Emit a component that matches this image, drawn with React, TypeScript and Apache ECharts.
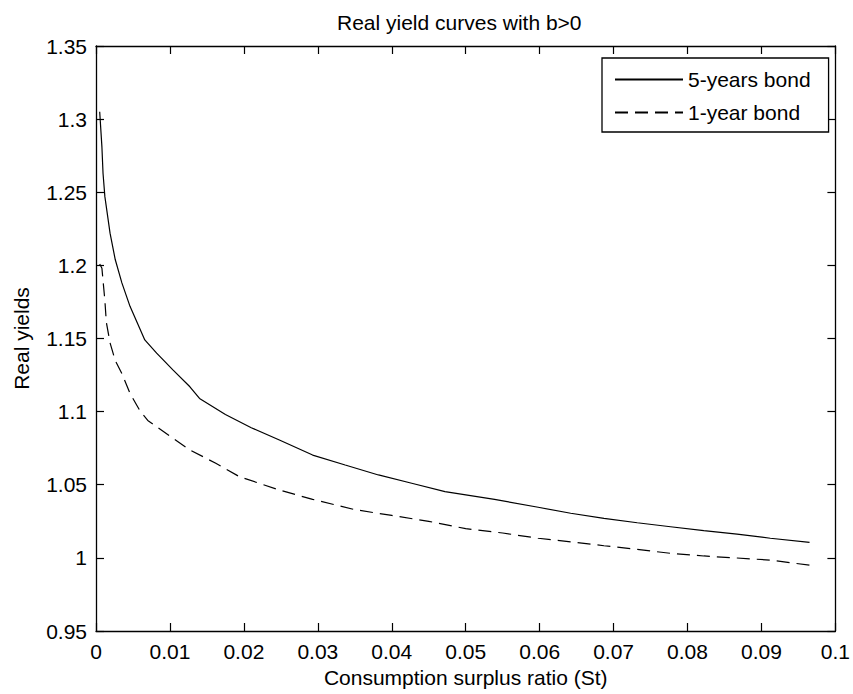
import React, { useEffect, useRef } from "react";
import * as echarts from "echarts";

const titleText = "Real yield curves with b>0";
const xAxisName = "Consumption surplus ratio (St)";
const yAxisName = "Real yields";
const seriesNames = ["5-years bond", "1-year bond"];

const fiveX = [0.0005, 0.0008, 0.00095, 0.0012, 0.0019, 0.0026, 0.0035, 0.0046, 0.0066, 0.0082, 0.0104, 0.0127, 0.014, 0.0175, 0.021, 0.0248, 0.0293, 0.0337, 0.0382, 0.0427, 0.0472, 0.0539, 0.0598, 0.0642, 0.0687, 0.0732, 0.0777, 0.0822, 0.0867, 0.0912, 0.0965];
const fiveY = [1.305, 1.281, 1.263, 1.247, 1.222, 1.204, 1.188, 1.172, 1.149, 1.14, 1.1285, 1.117, 1.109, 1.098, 1.089, 1.0806, 1.0703, 1.0635, 1.0567, 1.051, 1.0453, 1.04, 1.0346, 1.0305, 1.027, 1.024, 1.0213, 1.0186, 1.0163, 1.0134, 1.0106];

const oneX = [0.0005, 0.0008, 0.0012, 0.0014, 0.0019, 0.0026, 0.0035, 0.0046, 0.0059, 0.007, 0.0104, 0.0127, 0.0162, 0.0194, 0.0248, 0.0293, 0.035, 0.04, 0.045, 0.05, 0.055, 0.0598, 0.0642, 0.0687, 0.0732, 0.0777, 0.0822, 0.0867, 0.0912, 0.0965];
const oneY = [1.201, 1.198, 1.176, 1.161, 1.147, 1.135, 1.126, 1.1125, 1.101, 1.094, 1.0818, 1.0738, 1.0647, 1.0555, 1.0464, 1.04, 1.033, 1.029, 1.025, 1.02, 1.017, 1.0134, 1.011, 1.0083, 1.0058, 1.0031, 1.0013, 0.9999, 0.9985, 0.995];

const xMin = 0;
const xMax = 0.1;
const xStep = 0.01;
const yMin = 0.95;
const yMax = 1.35;
const yStep = 0.05;

const FONT = "'Liberation Sans', Arial, sans-serif";
const FS = 21;
const INK = "#000";

export default function App() {
  const ref = useRef<HTMLDivElement>(null);
  useEffect(() => {
    if (!ref.current) return;
    const chart = echarts.init(ref.current, null, { renderer: "svg" });
    const axisLine = { show: true, onZero: false, lineStyle: { color: INK, width: 1.3 } };
    const tick = { show: true, inside: true, length: 8, lineStyle: { color: INK, width: 1.2 } };
    const labelStyle = { color: INK, fontSize: FS, fontFamily: FONT };
    chart.setOption({
      animation: false,
      backgroundColor: "#fff",
      title: {
        text: titleText,
        left: 337,
        top: 12,
        padding: 0,
        textStyle: { color: INK, fontSize: FS, fontWeight: "normal", fontFamily: FONT },
      },
      legend: {
        orient: "vertical",
        left: 602,
        top: 58,
        itemWidth: 68,
        itemHeight: 20,
        itemGap: 12,
        padding: [11, 18, 9, 12],
        borderColor: INK,
        borderWidth: 1.3,
        backgroundColor: "#fff",
        textStyle: labelStyle,
        itemStyle: { opacity: 0 },
        data: seriesNames,
      },
      grid: { left: 96, top: 46, right: 14, bottom: 63, containLabel: false },
      xAxis: [
        {
          type: "value",
          position: "bottom",
          min: xMin,
          max: xMax,
          interval: xStep,
          axisLine,
          axisTick: tick,
          splitLine: { show: false },
          axisLabel: { ...labelStyle, margin: 10 },
          name: xAxisName,
          nameLocation: "middle",
          nameGap: 36,
          nameTextStyle: labelStyle,
        },
        {
          type: "value",
          position: "top",
          min: xMin,
          max: xMax,
          interval: xStep,
          axisLine,
          axisTick: tick,
          splitLine: { show: false },
          axisLabel: { show: false },
        },
      ],
      yAxis: [
        {
          type: "value",
          position: "left",
          min: yMin,
          max: yMax,
          interval: yStep,
          axisLine,
          axisTick: tick,
          splitLine: { show: false },
          axisLabel: { ...labelStyle, margin: 9 },
          name: yAxisName,
          nameLocation: "middle",
          nameGap: 64,
          nameTextStyle: labelStyle,
        },
        {
          type: "value",
          position: "right",
          min: yMin,
          max: yMax,
          interval: yStep,
          axisLine,
          axisTick: tick,
          splitLine: { show: false },
          axisLabel: { show: false },
        },
      ],
      series: [
        {
          name: seriesNames[0],
          type: "line",
          xAxisIndex: 0,
          yAxisIndex: 0,
          symbol: "none",
          showSymbol: false,
          lineStyle: { color: INK, width: 1.2, type: "solid" },
          itemStyle: { color: INK },
          data: fiveX.map((x, i) => [x, fiveY[i]]),
        },
        {
          name: seriesNames[1],
          type: "line",
          xAxisIndex: 0,
          yAxisIndex: 0,
          symbol: "none",
          showSymbol: false,
          lineStyle: { color: INK, width: 1.2, type: [13, 7] },
          itemStyle: { color: INK },
          data: oneX.map((x, i) => [x, oneY[i]]),
        },
      ],
    });
    return () => chart.dispose();
  }, []);
  return (
    <div
      ref={ref}
      style={{ position: "fixed", left: 0, top: 0, width: 853, height: 694, background: "#fff" }}
    />
  );
}
